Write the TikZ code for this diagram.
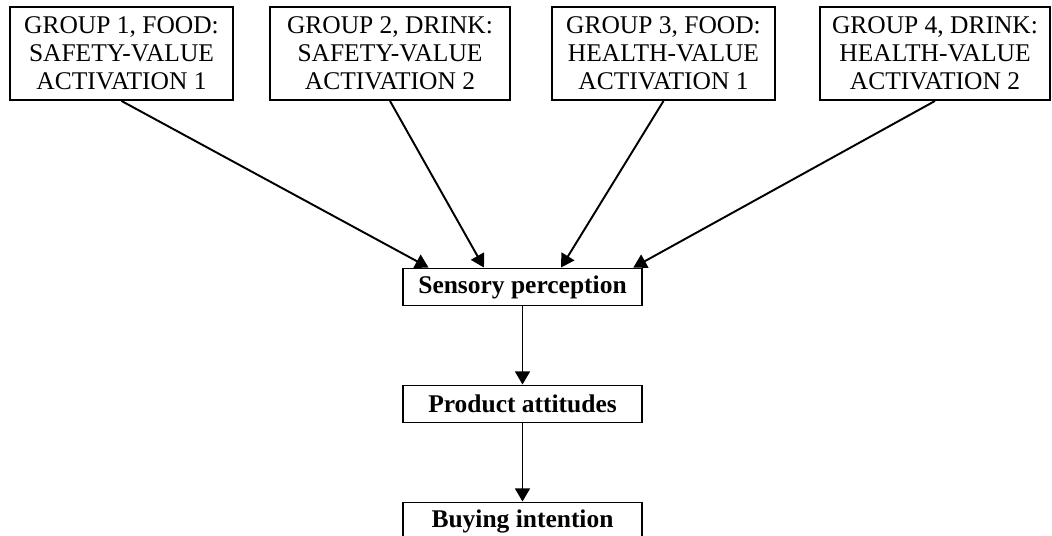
\documentclass[tikz,border=0pt]{standalone}
\usepackage{fontspec}
\setmainfont{Liberation Serif}
\usetikzlibrary{arrows.meta, calc}

\begin{document}
\begin{tikzpicture}[
    groupbox/.style={draw, line width=1.1pt, align=center, inner sep=2pt,
      minimum height=1.86cm, font=\fontsize{14.5}{15.9}\selectfont},
    stagebox/.style={draw, line width=1.1pt, minimum width=4.78cm, minimum height=0.74cm,
      inner sep=2pt, font=\fontsize{14.5}{15.9}\selectfont\bfseries},
    link/.style={line width=1.1pt, -{Triangle[length=7.5pt, width=8.5pt]}}
  ]
    \useasboundingbox (0,0) rectangle (21.04,10.7);
    % the four experimental groups
    \node[groupbox, minimum width=4.46cm] (grpA) at (2.43,9.63) {GROUP 1, FOOD:\\SAFETY-VALUE\\ACTIVATION 1};
    \node[groupbox, minimum width=4.80cm] (grpB) at (7.80,9.63) {GROUP 2, DRINK:\\SAFETY-VALUE\\ACTIVATION 2};
    \node[groupbox, minimum width=4.46cm] (grpC) at (13.27,9.63) {GROUP 3, FOOD:\\HEALTH-VALUE\\ACTIVATION 1};
    \node[groupbox, minimum width=4.60cm] (grpD) at (18.70,9.63) {GROUP 4, DRINK:\\HEALTH-VALUE\\ACTIVATION 2};
    % outcome chain
    \node[stagebox] (sens) at (10.45,4.96) {Sensory perception};
    \node[stagebox] (attit) at (10.45,2.62) {Product attitudes};
    \node[stagebox] (buy) at (10.45,0.28) {Buying intention};
    % entry points on the top of the perception box
    \coordinate (inA) at ($(sens.north west)!0.11!(sens.north east)$);
    \coordinate (inB) at ($(sens.north west)!0.34!(sens.north east)$);
    \coordinate (inC) at ($(sens.north west)!0.66!(sens.north east)$);
    \coordinate (inD) at ($(sens.north west)!0.96!(sens.north east)$);
    \draw[link] (grpA.south) -- (inA);
    \draw[link] (grpB.south) -- (inB);
    \draw[link] (grpC.south) -- (inC);
    \draw[link] (grpD.south) -- (inD);
    \draw[link] (sens) -- (attit);
    \draw[link] (attit) -- (buy);
\end{tikzpicture}
\end{document}
